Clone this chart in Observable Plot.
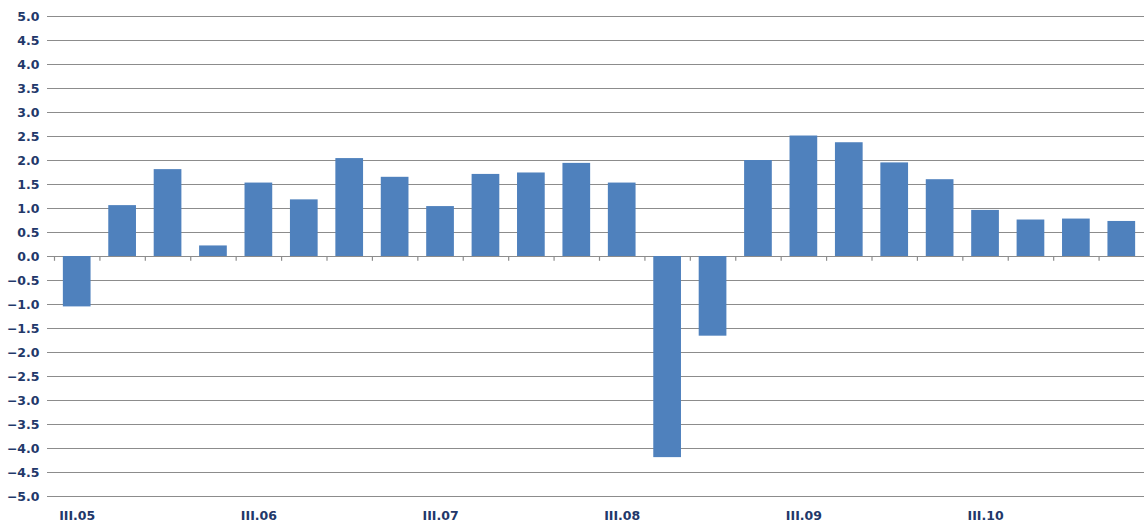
<!DOCTYPE html>
<html>
<head>
<meta charset="utf-8">
<script src="https://cdn.jsdelivr.net/npm/d3@7"></script>
<script src="https://cdn.jsdelivr.net/npm/@observablehq/plot@0.6"></script>
<style>
  html, body { margin: 0; padding: 0; background: #fff; }
  #chart svg { display: block; }
</style>
</head>
<body>
<div id="chart"></div>
<script>
const quarters = [
  "III.05","IV.05","I.06","II.06",
  "III.06","IV.06","I.07","II.07",
  "III.07","IV.07","I.08","II.08",
  "III.08","IV.08","I.09","II.09",
  "III.09","IV.09","I.10","II.10",
  "III.10","IV.10","I.11","II.11"
];
const values = [
  -1.05, 1.06, 1.81, 0.22,
  1.53, 1.18, 2.04, 1.65,
  1.04, 1.71, 1.74, 1.94,
  1.53, -4.19, -1.66, 2.00,
  2.51, 2.37, 1.95, 1.60,
  0.96, 0.76, 0.78, 0.73
];
const yTicks = [-5,-4.5,-4,-3.5,-3,-2.5,-2,-1.5,-1,-0.5,0,0.5,1,1.5,2,2.5,3,3.5,4,4.5,5];
const xLabels = ["III.05","III.06","III.07","III.08","III.09","III.10"];

const data = quarters.map((q, i) => ({q, v: values[i]}));

const W = 1144, H = 527, ML = 54, MR = 0, MT = 16, MB = 31;
const step = (W - ML - MR) / quarters.length;
const textColor = "#22386a";
const gridColor = "#8c8c8c";

const chart = Plot.plot({
  width: W,
  height: H,
  marginLeft: ML,
  marginRight: MR,
  marginTop: MT,
  marginBottom: MB,
  style: {fontFamily: "'DejaVu Sans', sans-serif", fontSize: "13px", background: "#fff"},
  x: {type: "band", domain: quarters, paddingInner: 0.39, paddingOuter: 0.195, round: false, label: null},
  y: {domain: [-5, 5], label: null},
  marks: [
    Plot.ruleY(yTicks, {stroke: gridColor, strokeWidth: 1.2}),
    Plot.ruleX(quarters, {x: d => d, y1: 0, y2: -0.1, dx: -step / 2, stroke: gridColor, strokeWidth: 1.2}),
    Plot.barY(data, {x: "q", y: "v", fill: "#4f81bd"}),
    Plot.ruleX([0], {frameAnchor: "left", dx: -1, stroke: gridColor, strokeWidth: 1.2}),
    Plot.axisY({ticks: yTicks, tickFormat: d3.format(".1f"), tickSize: 7, tickPadding: 8,
      stroke: gridColor, fill: textColor, fontWeight: "bold", fontSize: 12.5, letterSpacing: 1}),
    Plot.axisX({ticks: xLabels, tickSize: 0, tickPadding: 15, fill: textColor, fontWeight: "bold", fontSize: 12.5, letterSpacing: 0.5})
  ]
});
chart.querySelectorAll("g[aria-label='y-axis tick label'] text, g[aria-label='x-axis tick label'] text").forEach(t => {});
document.getElementById("chart").appendChild(chart);
</script>
</body>
</html>
